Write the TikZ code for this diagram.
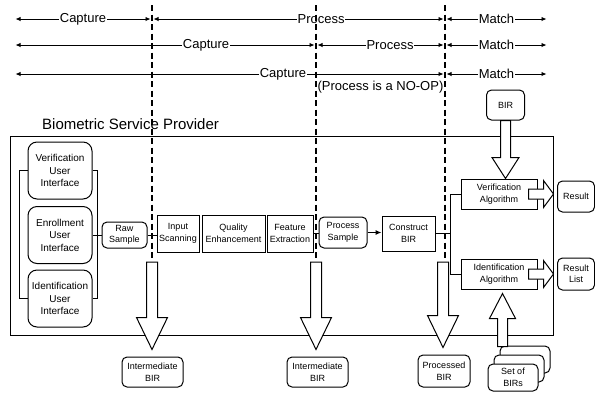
\documentclass[tikz,border=0pt]{standalone}
\usepackage{fontspec}
\setmainfont{Liberation Sans}
\usetikzlibrary{arrows.meta,calc}
\newcommand\fatarrow[5]{%
  \draw[fatarr] let \p1=($(#2)-(#1)$), \n1={atan2(\y1,\x1)}, \n2={veclen(\x1,\y1)} in
    [shift={(#1)},rotate=\n1]
    (0,-#3) -- ({\n2-#5},-#3) -- ({\n2-#5},-#4) -- (\n2,0) -- ({\n2-#5},#4) -- ({\n2-#5},#3) -- (0,#3) -- cycle;}
\begin{document}
\begin{tikzpicture}[x=1pt,y=-1pt,
  every node/.style={inner sep=1pt, align=center},
  box/.style={draw, line width=1pt, fill=white, font=\fontsize{9}{11.5}\selectfont},
  rbox/.style={box, rounded corners=5pt},
  uibox/.style={box, rounded corners=9pt, font=\fontsize{10}{12.5}\selectfont, minimum width=64pt, minimum height=57pt},
  ln/.style={line width=1pt},
  tl/.style={line width=0.9pt, {Latex[length=5pt,width=4.5pt]}-{Latex[length=5pt,width=4.5pt]}, shorten <=1.5pt, shorten >=1.5pt},
  lbl/.style={fill=white, font=\fontsize{13}{15}\selectfont, inner sep=0.5pt},
  stage/.style={line width=1.1pt, dash pattern=on 6pt off 3.5pt},
  fatarr/.style={draw, fill=white, line width=1pt, line join=miter},
]
\useasboundingbox (0,0) rectangle (595,392);

% outer provider box and title
\node[draw, line width=1pt, minimum width=543pt, minimum height=199pt, inner sep=0] (bsp) at (281.5,235.5) {};
\node[anchor=base west, font=\fontsize{15}{18}\selectfont, inner sep=0] (title) at (42,129) {Biometric Service Provider};

% user interfaces
\node[uibox] (vui) at (60,170.5) {Verification\\User\\Interface};
\node[uibox] (eui) at (60,235) {Enrollment\\User\\Interface};
\node[uibox] (iui) at (60,298.5) {Identification\\User\\Interface};

% pipeline
\node[rbox, minimum width=45pt, minimum height=26pt] (raw) at (124.5,235) {Raw\\Sample};
\node[box, minimum width=42pt, minimum height=37pt] (inscan) at (178,233.5) {Input\\Scanning};
\node[box, minimum width=63pt, minimum height=37pt] (qual) at (233.5,233.5) {Quality\\Enhancement};
\node[box, minimum width=46pt, minimum height=37pt] (feat) at (290,233.5) {Feature\\Extraction};
\node[rbox, minimum width=48pt, minimum height=31pt] (procs) at (343,232.5) {Process\\Sample};
\node[box, minimum width=53pt, minimum height=35pt] (constr) at (408.5,233.5) {Construct\\BIR};
\node[box, minimum width=76pt, minimum height=30pt] (valg) at (499,194) {Verification\\Algorithm};
\node[box, minimum width=76pt, minimum height=30pt] (ialg) at (499,274) {Identification\\Algorithm};
\node[rbox, minimum width=37pt, minimum height=31pt] (res) at (576,196.5) {Result};
\node[rbox, minimum width=37pt, minimum height=32pt] (rlist) at (576,274) {Result\\List};
\node[rbox, minimum width=38pt, minimum height=30pt] (bir) at (505.5,105) {BIR};
\node[rbox, minimum width=61pt, minimum height=30pt] (ib1) at (152.5,372) {Intermediate\\BIR};
\node[rbox, minimum width=61pt, minimum height=30pt] (ib2) at (317.5,372) {Intermediate\\BIR};
\node[rbox, minimum width=52pt, minimum height=32pt] (pbir) at (444,371) {Processed\\BIR};
\node[rbox, minimum width=50pt, minimum height=27pt] (set3) at (525,359.5) {};
\node[rbox, minimum width=50pt, minimum height=27pt] (set2) at (519,368.5) {};
\node[rbox, minimum width=50pt, minimum height=27pt] (set1) at (513,377.5) {Set of\\BIRs};

% connectors
\draw[ln] (vui.west) -- ++(-8,0) |- (iui.west);
\draw[ln] (vui.east) -- ++(5,0) |- (iui.east);
\draw[ln] (eui.east) -- (raw.west);
\draw[ln] (raw.east) -- (raw.east -| inscan.west);
\draw[ln] (feat.east) -- (feat.east -| procs.west);
\draw[ln, -{Latex[length=6pt,width=5pt]}] (procs.east) -- (procs.east -| constr.west);
\coordinate (brk) at ($(valg.west)+(-10,0)$);
\draw[ln] (valg.west) -- (brk) |- (ialg.west);
\draw[ln] (constr.east) -- (constr.east -| brk);

% stage timelines
\coordinate (d1) at (152,5);   \coordinate (d1b) at (152,258);
\coordinate (d2) at (316,5);   \coordinate (d2b) at (316,258);
\coordinate (d3) at (445,5);   \coordinate (d3b) at (445,258);
\coordinate (r1) at (14,19);   \coordinate (m1) at (548,19);
\coordinate (r2) at (14,45);   \coordinate (m2) at (548,45);
\coordinate (r3) at (14,74);   \coordinate (m3) at (548,74);

\draw[tl] (r1) -- (r1 -| d1) node[lbl,pos=.5] (c1) {Capture};
\draw[tl] (r1 -| d1) -- (r1 -| d3) node[lbl,pos=.577] (p1) {Process};
\draw[tl] (r1 -| d3) -- (m1) node[lbl,pos=.5] (mt1) {Match};
\draw[tl] (r2) -- (r2 -| d2) node[lbl,pos=.636] (c2) {Capture};
\draw[tl] (r2 -| d2) -- (r2 -| d3) node[lbl,pos=.574] (p2) {Process};
\draw[tl] (r2 -| d3) -- (m2) node[lbl,pos=.5] (mt2) {Match};
\draw[tl] (r3) -- (r3 -| d3) node[lbl,pos=.624] (c3) {Capture};
\draw[tl] (r3 -| d3) -- (m3) node[lbl,pos=.5] (mt3) {Match};
\node[font=\fontsize{13}{15}\selectfont] (noop) at (380.5,87) {(Process is a NO-OP)};

\draw[stage] (d1) -- (d1b);
\draw[stage] (d2) -- (d2b);
\draw[stage] (d3) -- (d3b);

% block arrows
\coordinate (birtip) at (bir.south |- valg.north);
\fatarrow{bir.south}{birtip}{5}{13.5}{21}
\coordinate (va0) at ($(valg.east)+(-9,0)$);
\coordinate (vatip) at (valg.east -| bsp.east);
\fatarrow{va0}{vatip}{5}{13.5}{10}
\coordinate (ia0) at ($(ialg.east)+(-9,0)$);
\coordinate (iatip) at (ialg.east -| bsp.east);
\fatarrow{ia0}{iatip}{5}{13.5}{10}
\coordinate (st0) at ($(set3.north west)+(3,1)$);
\coordinate (sttip) at ($(st0 |- ialg.south)+(0,4)$);
\fatarrow{st0}{sttip}{5}{13}{25}
\coordinate (o1) at (152,262);
\coordinate (o1t) at ($(o1 |- ib1.north)+(0,-7)$);
\fatarrow{o1}{o1t}{5.5}{15.5}{32}
\coordinate (o2) at (316,262);
\coordinate (o2t) at ($(o2 |- ib2.north)+(0,-7)$);
\fatarrow{o2}{o2t}{5.5}{15.5}{32}
\coordinate (o3) at (443,262);
\coordinate (o3t) at ($(o3 |- pbir.north)+(0,-7)$);
\fatarrow{o3}{o3t}{5.5}{15.5}{32}
\end{tikzpicture}
\end{document}
